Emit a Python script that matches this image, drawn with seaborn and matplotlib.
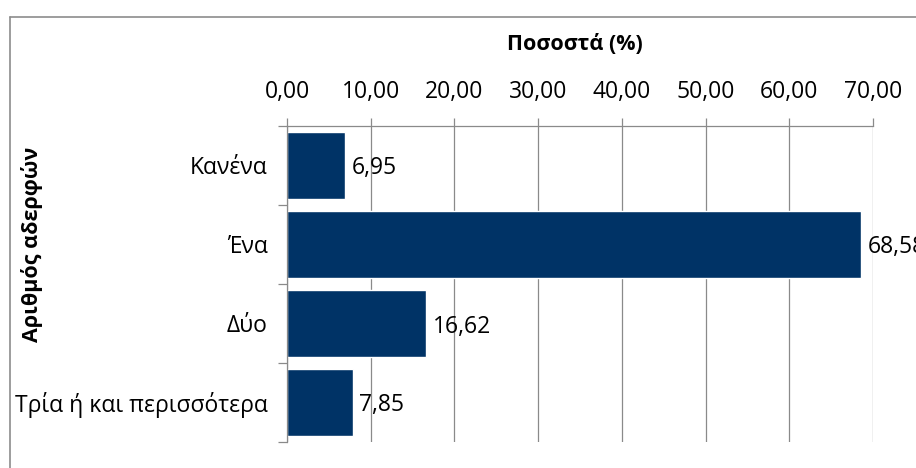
import matplotlib
matplotlib.use("Agg")
import matplotlib.pyplot as plt
from matplotlib.lines import Line2D
from matplotlib.ticker import FuncFormatter, FixedLocator
import seaborn as sns
import pandas as pd

categories = ["Κανένα", "Ένα", "Δύο", "Τρία ή και περισσότερα"]
values = [6.95, 68.58, 16.62, 7.85]
x_ticks = [0, 10, 20, 30, 40, 50, 60, 70]
title = "Ποσοστά (%)"
ylabel = "Αριθμός αδερφών"

sns.set_theme(style="white")
plt.rcParams['font.family'] = ['Open Sans', 'DejaVu Sans']

W, H = 916, 468
fig = plt.figure(figsize=(W / 100, H / 100), dpi=100)
fig.patch.set_facecolor("white")
ax = fig.add_axes([287 / W, 1 - 442 / H, (873 - 287) / W, (442 - 126) / H])

df = pd.DataFrame({"cat": categories, "val": values})
sns.barplot(data=df, y="cat", x="val", orient="h", color="#003366",
            saturation=1, width=0.84, ax=ax, order=categories)

ax.set_xlim(0, 70)
ax.set_ylim(3.5, -0.5)
ax.xaxis.tick_top()
ax.set_xticks(x_ticks)
ax.xaxis.set_major_formatter(FuncFormatter(lambda v, p: f"{v:.2f}".replace(".", ",")))
ax.grid(axis="x", color="#8a8a8a", linewidth=0.9)
ax.set_axisbelow(True)
ax.set_xlabel("")
ax.set_ylabel("")

gray = "#8a8a8a"
for side in ["bottom", "right"]:
    ax.spines[side].set_visible(False)
for side in ["top", "left"]:
    ax.spines[side].set_visible(True)
    ax.spines[side].set_color(gray)
    ax.spines[side].set_linewidth(0.9)

fs = 16.5
ax.tick_params(axis="x", which="major", direction="out", length=5.8, width=0.9,
               color=gray, pad=10, labelsize=fs, labelcolor="black",
               top=True, bottom=False, labeltop=True, labelbottom=False)
ax.tick_params(axis="y", which="major", length=0, pad=14, labelsize=fs,
               labelcolor="black")
for lab in ax.get_yticklabels():
    lab.set_verticalalignment("center_baseline")
ax.yaxis.set_minor_locator(FixedLocator([-0.5, 0.5, 1.5, 2.5, 3.5]))
ax.tick_params(axis="y", which="minor", direction="out", length=6.5, width=0.9,
               color=gray, left=True)

for i, v in enumerate(values):
    ax.text(v + 0.8, i, f"{v:.2f}".replace(".", ","), va="center_baseline", ha="left",
            fontsize=fs, color="black", clip_on=False)

fig.text(575 / W, 1 - 44 / H, title, ha="center", va="center",
         fontsize=15.5, fontweight="bold", color="black")
fig.text(32 / W, 1 - 244 / H, ylabel, ha="center", va="center", rotation=90,
         fontsize=15.5, fontweight="bold", color="black")

fig.add_artist(Line2D([9.5 / W, 9.5 / W], [0, 1 - 16.5 / H], transform=fig.transFigure,
                      color="#8c8c8c", linewidth=1.2))
fig.add_artist(Line2D([9.5 / W, 1], [1 - 16.5 / H, 1 - 16.5 / H], transform=fig.transFigure,
                      color="#8c8c8c", linewidth=1.2))

fig.savefig("out.png", dpi=100)
